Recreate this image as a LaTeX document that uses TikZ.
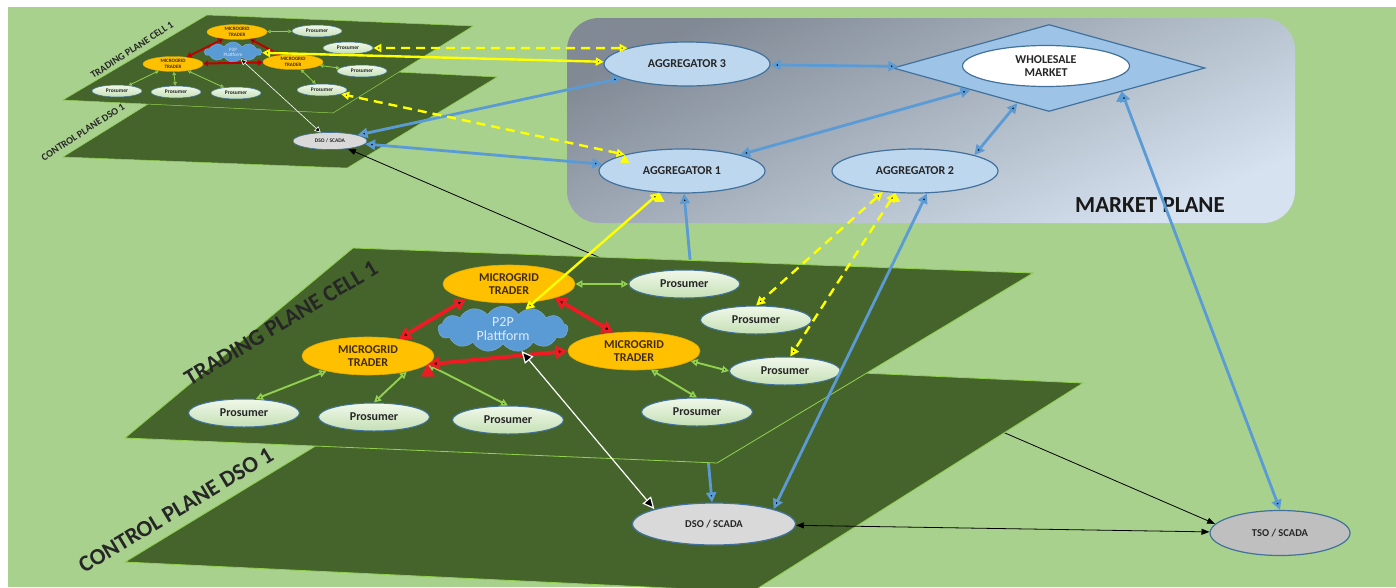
\documentclass[tikz,border=0pt]{standalone}
\usepackage{fontspec}
\setmainfont{Carlito}
\usetikzlibrary{shapes.geometric,shapes.symbols,arrows.meta,positioning}

\definecolor{meadow}{RGB}{169,209,142}
\definecolor{planegreen}{RGB}{69,100,44}
\definecolor{rimgreen}{RGB}{146,208,80}
\definecolor{linkblue}{RGB}{91,155,213}
\definecolor{rimblue}{RGB}{65,113,156}
\definecolor{aggfill}{RGB}{189,215,238}
\definecolor{mktfill}{RGB}{157,195,230}
\definecolor{traderfill}{RGB}{255,192,0}
\definecolor{tradertext}{RGB}{64,44,16}
\definecolor{cloudtext}{RGB}{221,235,247}
\definecolor{prosfill}{RGB}{240,248,234}
\definecolor{prosdeep}{RGB}{197,224,180}
\definecolor{tradered}{RGB}{237,28,36}
\definecolor{darkred}{RGB}{192,0,0}
\definecolor{bidyellow}{RGB}{255,255,0}
\definecolor{slate}{RGB}{128,137,148}
\definecolor{haze}{RGB}{214,226,240}
\definecolor{dsofill}{RGB}{217,217,217}
\definecolor{tsofill}{RGB}{191,191,191}

\pgfdeclarelayer{ground}
\pgfdeclarelayer{wire}
\pgfdeclarelayer{lower}
\pgfdeclarelayer{thru}
\pgfdeclarelayer{upper}
\pgfsetlayers{ground,wire,lower,thru,upper,main}

\begin{document}
\begin{tikzpicture}[x=1pt, y=-1pt,
    plane/.style={fill=planegreen, draw=rimgreen, line width=0.8pt},
    agg node/.style={ellipse, draw=rimblue, line width=1.2pt, fill=aggfill, minimum width=166, minimum height=44, inner sep=0pt, font=\fontsize{12}{14}\selectfont\bfseries},
    trader node/.style={ellipse, draw=traderfill!90!black, line width=0.6pt, fill=traderfill, minimum width=132, minimum height=38, inner sep=0pt, align=center, text=tradertext, font=\fontsize{12}{12.5}\selectfont\bfseries},
    prosumer node/.style={ellipse, draw=rimblue, line width=1pt, top color=prosfill, bottom color=prosdeep, minimum width=111, minimum height=28, inner sep=0pt, font=\fontsize{12}{14}\selectfont\bfseries},
    cloud node/.style={cloud, cloud puffs=13, cloud puff arc=115, aspect=3, fill=linkblue, draw=linkblue!80!white, minimum width=130, minimum height=42, inner sep=0pt, align=center, text=cloudtext, font=\fontsize{14}{14.5}\selectfont},
    scada node/.style={ellipse, draw=rimblue, line width=1.2pt, fill=dsofill, minimum width=163, minimum height=42, inner sep=0pt, font=\fontsize{10.5}{12}\selectfont\bfseries},
    small trader/.style={trader node, minimum width=60, minimum height=15, line width=0.3pt, font=\fontsize{5}{5.3}\selectfont\bfseries},
    small prosumer/.style={prosumer node, minimum width=50, minimum height=12, line width=0.5pt, font=\fontsize{5.5}{6}\selectfont\bfseries},
    small cloud/.style={cloud node, cloud puffs=10, minimum width=57, minimum height=20, font=\fontsize{5}{5.2}\selectfont},
    small scada/.style={scada node, minimum width=74, minimum height=17, line width=0.6pt, font=\fontsize{5.5}{6}\selectfont\bfseries},
    plane label/.style={font=\fontsize{23}{26}\selectfont\bfseries},
    small label/.style={font=\fontsize{10}{12}\selectfont\bfseries},
    blue link/.style={<->, >={Triangle[length=10pt,width=10pt]}, draw=linkblue, line width=2.8pt},
    yellow link/.style={<->, >={Triangle[length=9pt,width=9pt]}, draw=bidyellow, line width=2.4pt},
    yellow dash/.style={yellow link, dash pattern=on 9pt off 6pt},
    red link/.style={<->, >={Triangle[length=12pt,width=13pt]}, draw=tradered, line width=3.8pt},
    green link/.style={<->, >={Triangle[length=7pt,width=7pt]}, draw=rimgreen, line width=1.9pt},
    white link/.style={<->, >={Triangle[length=12pt,width=11pt]}, draw=white, double=planegreen, double distance=2.4pt, line width=1.2pt},
    black link/.style={<->, >={Triangle[length=8pt,width=6pt]}, draw=black, line width=0.8pt},
    small green/.style={green link, line width=0.8pt, >={Triangle[length=3.5pt,width=3.5pt]}},
    small red/.style={red link, draw=darkred, line width=2pt, >={Triangle[length=5pt,width=6pt]}},
    small white/.style={white link, line width=0.6pt, double distance=1.2pt, >={Triangle[length=6pt,width=6pt]}},
    small yellow/.style={yellow link, >={Triangle[length=8pt,width=8pt]}},
    small dash/.style={yellow dash, >={Triangle[length=8pt,width=8pt]}}]
\tikzstyle{every node}=[font=\fontsize{12}{14}\selectfont, text=black!85]
\useasboundingbox (0,0) rectangle (1396,587);

% market plane
\node[agg node] (agg3) at (687,64) {AGGREGATOR 3};
\node[agg node] (agg1) at (682,171) {AGGREGATOR 1};
\node[agg node] (agg2) at (915,171) {AGGREGATOR 2};
\node[diamond, draw=rimblue, line width=1.2pt, fill=mktfill, minimum width=312, minimum height=87, inner sep=0pt] (mkt) at (1049,68) {};
\node[ellipse, draw=rimblue, line width=1.2pt, fill=white, minimum width=167, minimum height=41, inner sep=0pt, align=center, font=\fontsize{12}{13}\selectfont\bfseries] (wm) at (1046,66) {WHOLESALE\\MARKET};
\node[font=\fontsize{23}{28}\selectfont\bfseries, text=black!90] (mpl) at (1150,205) {MARKET PLANE};

% small cell
\node[small label, rotate=33] (stpl) at (132,50) {TRADING PLANE CELL 1};
\node[small label, rotate=33] (scpl) at (83,132) {CONTROL PLANE DSO 1};
\node[small trader] (st1) at (237,32) {MICROGRID\\TRADER};
\node[small trader] (st2) at (173,64) {MICROGRID\\TRADER};
\node[small trader] (st3) at (293,62) {MICROGRID\\TRADER};
\node[small cloud] (sp2p) at (233,52) {P2P\\Plattform};
\node[small prosumer] (spa) at (317,31) {Prosumer};
\node[small prosumer] (spb) at (348,48) {Prosumer};
\node[small prosumer] (spc) at (362,71) {Prosumer};
\node[small prosumer] (spd) at (322,90) {Prosumer};
\node[small prosumer] (spe) at (117,91) {Prosumer};
\node[small prosumer] (spf) at (176,92) {Prosumer};
\node[small prosumer] (spg) at (236,93) {Prosumer};
\node[small scada] (sdso) at (330,141) {DSO / SCADA};

% big cell
\node[plane label, rotate=31] (tpl) at (281,323) {TRADING PLANE CELL 1};
\node[plane label, rotate=31] (cpl) at (176,510) {CONTROL PLANE DSO 1};
\node[trader node] (t1) at (509,284) {MICROGRID\\TRADER};
\node[trader node] (t2) at (368,356) {MICROGRID\\TRADER};
\node[trader node] (t3) at (634,351) {MICROGRID\\TRADER};
\node[cloud node] (p2p) at (503,329) {P2P\\Plattform};
\node[prosumer node, right=53pt of t1] (pa) {Prosumer};
\node[prosumer node] (pb) at (756,320) {Prosumer};
\node[prosumer node] (pc) at (785,371) {Prosumer};
\node[prosumer node] (pd) at (697,412) {Prosumer};
\node[prosumer node] (pe) at (244,413) {Prosumer};
\node[prosumer node] (pf) at (374,417) {Prosumer};
\node[prosumer node] (pg) at (508,420) {Prosumer};
\node[scada node] (dso) at (714,524) {DSO / SCADA};
\node[scada node, fill=tsofill, minimum width=140, minimum height=45] (tso) at (1280,533) {TSO / SCADA};

\begin{pgfonlayer}{ground}
  \fill[white] (0,0) rectangle (1396,587);
  \fill[meadow] (8,7) rectangle (1396,587);
  \shade[rounded corners=32, top color=slate, bottom color=haze, shading angle=25] (567,18) rectangle (1295,223);
  \filldraw[plane, line width=0.5pt] (63,157) -- (214,63) -- (497,77) -- (347,168) -- cycle;
  \filldraw[plane, line width=0.5pt] (63,100) -- (207,15) -- (473,26) -- (333,113) -- cycle;
\end{pgfonlayer}
\begin{pgfonlayer}{wire}
  \path[black link] (sdso) edge (tso.172);
\end{pgfonlayer}
\begin{pgfonlayer}{lower}
  \filldraw[plane] (125,562) -- (465,355) -- (1083,383) -- (752,592) -- cycle;
\end{pgfonlayer}
\begin{pgfonlayer}{thru}
  \path[blue link] (agg1) edge (dso);
\end{pgfonlayer}
\begin{pgfonlayer}{upper}
  \filldraw[plane] (125,438) -- (353,248) -- (1033,273) -- (717,463) -- cycle;
\end{pgfonlayer}

\path[small green] (st1) edge (spa) (st3) edge (spc) (st3) edge (spd)
  (st2) edge (spe) (st2) edge (spf) (st2) edge (spg);
\path[small red] (st1) edge (st2) (st1) edge (st3) (st2) edge (st3);
\path[small white] (sp2p) edge (sdso);

\path[green link] (t1) edge (pa)
  (t3.350) edge (pc.west)
  (t3.312) edge (pd.north)
  (t2.200) edge (pe.50)
  (t2.338) edge (pf.north)
  (t2.352) edge (pg.north);
\path[red link] (t1.199) edge (t2.29) (t1.343) edge (t3.138) (t2.352) edge (t3.west);
\path[white link] (p2p) edge (dso.166);

\path[blue link] (agg3) edge (mkt) (agg3) edge (sdso)
  (agg1) edge (mkt) (agg1) edge (sdso)
  (agg2.15) edge (mkt.228)
  (agg2.298) edge (dso.14)
  (mkt.342) edge (tso.north);
\path[small yellow] (agg3) edge (sp2p);
\path[yellow link] (agg1.224) edge (p2p);
\path[small dash] (agg3.165) edge (spb) (agg1.164) edge (spd);
\path[yellow dash] (agg2.213) edge (pb.north) (agg2.228) edge (pc.70);
\path[black link] (dso) edge (tso);
\end{tikzpicture}
\end{document}
